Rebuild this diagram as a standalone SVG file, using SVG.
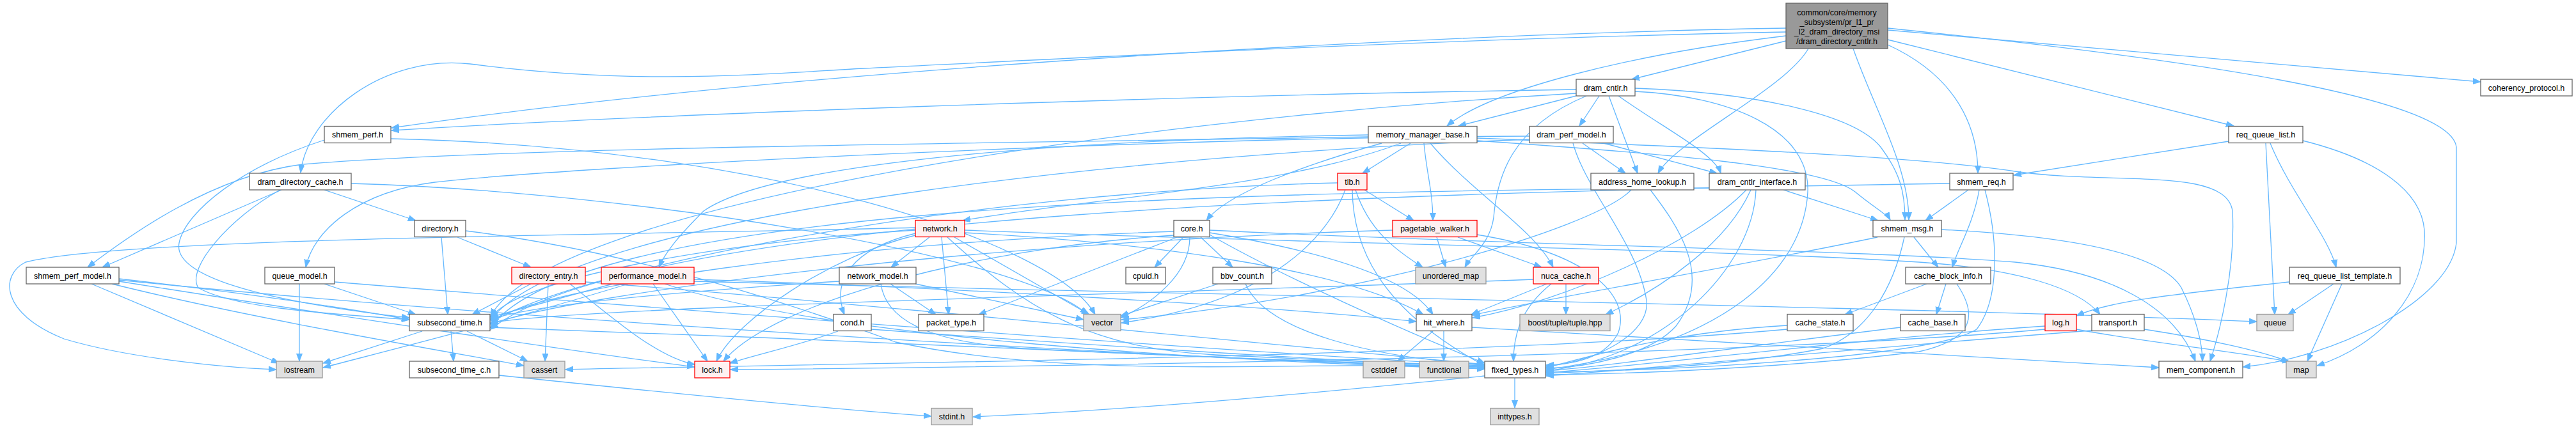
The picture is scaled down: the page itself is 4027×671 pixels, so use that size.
<svg xmlns="http://www.w3.org/2000/svg" width="4027" height="671" viewBox="0 0 4027 671">
<defs>
<marker id="a" markerUnits="userSpaceOnUse" markerWidth="13" markerHeight="10" refX="12" refY="4.5" orient="auto"><path d="M0,0 L12,4.5 L0,9 z" fill="#63b8ff" stroke="#63b8ff" stroke-width="1"/></marker>
</defs>
<style>
rect{fill:#fff;stroke:#666;stroke-width:1.3}
.r rect{fill:#fff0f0;stroke:#f00}
.g rect{fill:#e0e0e0;stroke:#999}
.root rect{fill:#999;stroke:#666}
text{font-family:"Liberation Sans",Arial,Helvetica,sans-serif;font-size:12.5px;text-anchor:middle;fill:#000}
#edges path{fill:none;stroke:#63b8ff;stroke-width:1.3;marker-end:url(#a)}
</style>
<rect x="0" y="0" width="4027" height="671" style="fill:#fff;stroke:none"/>
<g id="edges">
<path d="M2792,44 C2300,52 1300,100 612,200"/>
<path d="M2792,50 C2200,62 1600,95 1350,107 C1200,115 1000,135 735,100 C600,85 480,180 470,270"/>
<path d="M2792,56 C2550,85 2330,140 2262,197"/>
<path d="M2792,64 L2551,124"/>
<path d="M2827,76 C2790,140 2620,220 2592,271"/>
<path d="M2897,76 C2930,170 2984,260 2984,344"/>
<path d="M2951,70 C3060,120 3092,200 3092,271"/>
<path d="M2951,62 L3492,197"/>
<path d="M2951,47 L3878,128"/>
<path d="M2951,44 C3400,90 3830,150 3840,230 L3840,380 C3830,470 3650,560 3506,574"/>
<path d="M2464,140 C1800,150 1000,180 612,204"/>
<path d="M2464,146 C1700,190 850,330 767,495"/>
<path d="M2464,150 L2280,197"/>
<path d="M2500,150 L2469,197"/>
<path d="M2515,150 L2560,271"/>
<path d="M2530,150 C2600,200 2680,240 2690,271"/>
<path d="M2480,150 C2360,200 2340,280 2335,340 C2330,380 2300,400 2290,418"/>
<path d="M2556,138 C2750,145 2900,180 2940,230 C2970,270 2978,300 2978,344"/>
<path d="M2556,143 C2700,150 2830,200 2826,300 C2820,420 2700,540 2417,578"/>
<path d="M507,219 C380,260 290,330 280,380 C270,430 400,470 640,497"/>
<path d="M611,217 C1200,230 1650,380 1712,492"/>
<path d="M2139,214 C1500,225 800,230 473,257 C330,275 200,370 137,418"/>
<path d="M2205,224 L2130,271"/>
<path d="M2226,224 C2230,270 2240,300 2240,345"/>
<path d="M2236,224 C2300,300 2400,360 2428,418"/>
<path d="M2309,216 C2700,232 3000,245 3150,268 C3300,290 3480,260 3490,330 C3495,420 3470,520 3455,565"/>
<path d="M2160,224 C2050,255 1920,300 1886,345"/>
<path d="M2190,224 C2000,295 1700,310 1505,345"/>
<path d="M2139,211 C1600,220 1200,260 1100,330 C1060,370 1040,395 1030,418"/>
<path d="M2309,220 C2600,240 2850,260 2900,300 C2930,325 2950,335 2955,344"/>
<path d="M2391,218 C1800,240 900,330 767,500"/>
<path d="M2474,224 L2541,271"/>
<path d="M2507,224 L2684,271"/>
<path d="M2459,224 C2480,300 2560,380 2574,470 C2580,520 2500,565 2417,573"/>
<path d="M2391,213 C1800,215 900,260 680,285 C560,300 490,360 478,418"/>
<path d="M3484,221 L3148,274"/>
<path d="M3542,224 L3556,492"/>
<path d="M3549,224 C3580,300 3640,370 3652,418"/>
<path d="M3600,220 C3720,250 3785,300 3790,360 C3795,460 3720,540 3622,572"/>
<path d="M507,297 L650,345"/>
<path d="M440,297 L160,418"/>
<path d="M438,297 C360,340 290,420 310,450 C360,480 500,490 640,500"/>
<path d="M549,287 C1000,300 1600,400 1700,492"/>
<path d="M2091,286 C1500,300 900,420 767,505"/>
<path d="M2103,297 C2080,360 2000,470 1753,505"/>
<path d="M2114,297 C2115,380 2150,480 2321,572"/>
<path d="M2119,297 C2140,360 2180,390 2224,418"/>
<path d="M2133,297 L2210,345"/>
<path d="M2550,297 C2490,360 2100,470 1753,500"/>
<path d="M2580,297 C2620,350 2680,430 2620,510 C2580,555 2480,575 2417,576"/>
<path d="M2672,294 C1800,300 900,330 767,512"/>
<path d="M2730,297 C2650,380 2450,470 2302,497"/>
<path d="M2737,297 C2700,380 2600,450 2510,492"/>
<path d="M2745,297 C2740,420 2600,560 2417,580"/>
<path d="M2788,297 L2936,345"/>
<path d="M3077,297 L3010,345"/>
<path d="M3094,297 C3085,350 3060,390 3052,418"/>
<path d="M3103,297 C3125,380 3125,470 3090,515 C3020,560 2600,580 2417,582"/>
<path d="M3048,287 C2200,300 1000,330 767,515"/>
<path d="M715,371 L830,418"/>
<path d="M690,371 L700,492"/>
<path d="M728,361 C1000,395 1250,480 1400,535 C1700,600 2100,560 2321,575"/>
<path d="M1453,371 L1393,418"/>
<path d="M1472,371 L1483,492"/>
<path d="M1492,371 L1703,492"/>
<path d="M1481,371 C1600,480 1700,545 1900,555 C2100,565 2250,570 2321,572"/>
<path d="M1431,365 C1330,390 1300,440 1320,492"/>
<path d="M1431,368 C1300,400 1150,500 1120,565"/>
<path d="M1431,360 C1100,380 800,440 767,498"/>
<path d="M1431,356 C1000,368 200,370 40,410 C0,430 0,490 100,530 C200,560 350,575 432,578"/>
<path d="M1508,360 C2000,380 2700,390 3000,410 C3150,420 3250,450 3283,492"/>
<path d="M1508,364 C1800,380 2100,420 2225,492"/>
<path d="M1840,371 L1530,492"/>
<path d="M1850,371 L1805,418"/>
<path d="M1877,371 L1927,418"/>
<path d="M1860,371 C1860,430 1800,475 1752,497"/>
<path d="M1891,360 C2400,385 2900,390 3150,410 C3300,425 3400,480 3432,565"/>
<path d="M1891,367 C2000,430 2200,520 2321,568"/>
<path d="M1835,368 C1500,390 1200,480 1131,565"/>
<path d="M1835,362 C1300,380 850,450 767,502"/>
<path d="M1891,364 C2050,390 2200,430 2240,492"/>
<path d="M2246,371 L2260,418"/>
<path d="M2279,371 L2410,418"/>
<path d="M2309,367 C2480,395 2550,460 2530,520 C2510,560 2460,570 2417,571"/>
<path d="M2177,360 C1500,380 900,460 767,507"/>
<path d="M2935,371 C2700,420 2400,470 2302,493"/>
<path d="M2977,371 C2960,450 2920,520 2850,545 C2700,575 2500,580 2417,584"/>
<path d="M2992,371 L3030,418"/>
<path d="M3035,359 C3250,370 3380,400 3410,450 C3435,500 3443,540 3443,565"/>
<path d="M143,444 L436,568"/>
<path d="M186,436 C400,460 560,485 640,500"/>
<path d="M175,444 C400,500 700,550 819,572"/>
<path d="M186,440 C500,490 900,550 1086,574"/>
<path d="M186,438 C800,500 1800,560 2321,575"/>
<path d="M468,444 L468,565"/>
<path d="M507,444 L650,492"/>
<path d="M523,441 C1000,480 1900,550 2321,571"/>
<path d="M830,444 L738,492"/>
<path d="M857,444 L852,565"/>
<path d="M891,444 C960,500 1030,560 1086,570"/>
<path d="M915,441 C1300,470 2000,540 2321,570"/>
<path d="M958,444 L767,496"/>
<path d="M1021,444 L1106,565"/>
<path d="M982,444 C800,500 600,550 505,575"/>
<path d="M1039,444 C1300,530 1900,565 2321,577"/>
<path d="M1085,437 C1500,450 2000,480 2214,503"/>
<path d="M1085,440 C1800,460 3000,480 3528,503"/>
<path d="M1392,444 L1463,492"/>
<path d="M1377,444 C1385,500 1450,535 1600,545 C1900,560 2200,570 2321,573"/>
<path d="M1312,440 C1000,460 820,480 767,500"/>
<path d="M1431,444 C1550,470 1650,490 1694,500"/>
<path d="M1904,444 L1752,494"/>
<path d="M1947,444 C1980,520 2150,560 2321,570"/>
<path d="M2418,444 L2300,492"/>
<path d="M2448,444 L2448,492"/>
<path d="M2425,444 C2380,480 2366,520 2366,565"/>
<path d="M2397,437 C1800,460 900,480 767,505"/>
<path d="M3012,444 L2884,492"/>
<path d="M3042,444 L3027,492"/>
<path d="M3059,444 C3090,490 3090,530 3000,550 C2800,575 2550,585 2417,586"/>
<path d="M3648,444 L3577,492"/>
<path d="M3661,444 L3607,565"/>
<path d="M3579,441 C3400,460 3300,470 3246,494"/>
<path d="M660,518 L505,568"/>
<path d="M705,518 L709,565"/>
<path d="M730,518 L825,565"/>
<path d="M766,512 C1300,530 1900,560 2321,577"/>
<path d="M1310,518 C1250,540 1180,555 1141,568"/>
<path d="M1362,515 C1700,540 2100,565 2321,574"/>
<path d="M2240,518 L2185,565"/>
<path d="M2257,518 L2257,565"/>
<path d="M2301,512 C2700,535 3100,560 3375,575"/>
<path d="M2794,509 C2600,520 2480,560 2417,575"/>
<path d="M2794,515 C2300,560 1200,570 884,578"/>
<path d="M2971,512 C2700,545 2500,575 2417,580"/>
<path d="M3197,510 C2900,530 2600,570 2417,583"/>
<path d="M3197,515 C2700,560 1500,575 1142,578"/>
<path d="M3246,515 C3350,535 3500,550 3580,566"/>
<path d="M3270,517 C2900,545 2600,575 2417,588"/>
<path d="M3352,515 C3450,530 3540,550 3578,566"/>
<path d="M780,587 C1000,610 1300,640 1456,651"/>
<path d="M2321,588 C2100,610 1800,640 1521,652"/>
<path d="M2368,591 L2368,638"/>
</g>
<g id="n_root" class="root"><rect x="2792" y="5" width="159" height="71"/><text x="2871.5" y="23.5">common/core/memory</text><text x="2871.5" y="38.5">_subsystem/pr_l1_pr</text><text x="2871.5" y="53.5">_l2_dram_directory_msi</text><text x="2871.5" y="68.5">/dram_directory_cntlr.h</text></g>
<g id="n_dram_cntlr"><rect x="2464" y="124" width="92" height="26"/><text x="2510" y="141.5">dram_cntlr.h</text></g>
<g id="n_coherency_protocol"><rect x="3878" y="124" width="143" height="26"/><text x="3949.5" y="141.5">coherency_protocol.h</text></g>
<g id="n_shmem_perf"><rect x="507" y="197.5" width="104" height="26"/><text x="559" y="215">shmem_perf.h</text></g>
<g id="n_memory_manager_base"><rect x="2139" y="197.5" width="170" height="26"/><text x="2224" y="215">memory_manager_base.h</text></g>
<g id="n_dram_perf_model"><rect x="2391" y="197.5" width="131" height="26"/><text x="2456.5" y="215">dram_perf_model.h</text></g>
<g id="n_req_queue_list"><rect x="3484" y="197.5" width="116" height="26"/><text x="3542" y="215">req_queue_list.h</text></g>
<g id="n_dram_directory_cache"><rect x="390" y="271" width="159" height="26"/><text x="469.5" y="288.5">dram_directory_cache.h</text></g>
<g id="n_tlb" class="r"><rect x="2091" y="271" width="46" height="26"/><text x="2114" y="288.5">tlb.h</text></g>
<g id="n_address_home_lookup"><rect x="2487" y="271" width="161" height="26"/><text x="2567.5" y="288.5">address_home_lookup.h</text></g>
<g id="n_dram_cntlr_interface"><rect x="2672" y="271" width="150" height="26"/><text x="2747" y="288.5">dram_cntlr_interface.h</text></g>
<g id="n_shmem_req"><rect x="3048" y="271" width="99" height="26"/><text x="3097.5" y="288.5">shmem_req.h</text></g>
<g id="n_directory"><rect x="648" y="344.5" width="80" height="26"/><text x="688" y="362">directory.h</text></g>
<g id="n_network" class="r"><rect x="1431" y="344.5" width="77" height="26"/><text x="1469.5" y="362">network.h</text></g>
<g id="n_core"><rect x="1835" y="344.5" width="56" height="26"/><text x="1863" y="362">core.h</text></g>
<g id="n_pagetable_walker" class="r"><rect x="2177" y="344.5" width="132" height="26"/><text x="2243" y="362">pagetable_walker.h</text></g>
<g id="n_shmem_msg"><rect x="2928" y="344.5" width="107" height="26"/><text x="2981.5" y="362">shmem_msg.h</text></g>
<g id="n_shmem_perf_model"><rect x="41" y="418" width="145" height="26"/><text x="113.5" y="435.5">shmem_perf_model.h</text></g>
<g id="n_queue_model"><rect x="414" y="418" width="109" height="26"/><text x="468.5" y="435.5">queue_model.h</text></g>
<g id="n_directory_entry" class="r"><rect x="800" y="418" width="115" height="26"/><text x="857.5" y="435.5">directory_entry.h</text></g>
<g id="n_performance_model" class="r"><rect x="940" y="418" width="145" height="26"/><text x="1012.5" y="435.5">performance_model.h</text></g>
<g id="n_network_model"><rect x="1312" y="418" width="120" height="26"/><text x="1372" y="435.5">network_model.h</text></g>
<g id="n_cpuid"><rect x="1760" y="418" width="62" height="26"/><text x="1791" y="435.5">cpuid.h</text></g>
<g id="n_bbv_count"><rect x="1896" y="418" width="92" height="26"/><text x="1942" y="435.5">bbv_count.h</text></g>
<g id="n_unordered_map" class="g"><rect x="2213" y="418" width="110" height="26"/><text x="2268" y="435.5">unordered_map</text></g>
<g id="n_nuca_cache" class="r"><rect x="2397" y="418" width="102" height="26"/><text x="2448" y="435.5">nuca_cache.h</text></g>
<g id="n_cache_block_info"><rect x="2979" y="418" width="133" height="26"/><text x="3045.5" y="435.5">cache_block_info.h</text></g>
<g id="n_req_queue_list_template"><rect x="3579" y="418" width="173" height="26"/><text x="3665.5" y="435.5">req_queue_list_template.h</text></g>
<g id="n_subsecond_time"><rect x="640" y="491.5" width="126" height="26"/><text x="703" y="509">subsecond_time.h</text></g>
<g id="n_cond"><rect x="1303" y="491.5" width="59" height="26"/><text x="1332.5" y="509">cond.h</text></g>
<g id="n_packet_type"><rect x="1436" y="491.5" width="102" height="26"/><text x="1487" y="509">packet_type.h</text></g>
<g id="n_vector" class="g"><rect x="1694" y="491.5" width="58" height="26"/><text x="1723" y="509">vector</text></g>
<g id="n_hit_where"><rect x="2214" y="491.5" width="87" height="26"/><text x="2257.5" y="509">hit_where.h</text></g>
<g id="n_boost_tuple" class="g"><rect x="2376" y="491.5" width="141" height="26"/><text x="2446.5" y="509">boost/tuple/tuple.hpp</text></g>
<g id="n_cache_state"><rect x="2794" y="491.5" width="103" height="26"/><text x="2845.5" y="509">cache_state.h</text></g>
<g id="n_cache_base"><rect x="2971" y="491.5" width="101" height="26"/><text x="3021.5" y="509">cache_base.h</text></g>
<g id="n_log" class="r"><rect x="3197" y="491.5" width="49" height="26"/><text x="3221.5" y="509">log.h</text></g>
<g id="n_transport"><rect x="3270" y="491.5" width="82" height="26"/><text x="3311" y="509">transport.h</text></g>
<g id="n_queue" class="g"><rect x="3528" y="491.5" width="57" height="26"/><text x="3556.5" y="509">queue</text></g>
<g id="n_iostream" class="g"><rect x="432" y="565" width="72" height="26"/><text x="468" y="582.5">iostream</text></g>
<g id="n_subsecond_time_c"><rect x="640" y="565" width="140" height="26"/><text x="710" y="582.5">subsecond_time_c.h</text></g>
<g id="n_cassert" class="g"><rect x="819" y="565" width="64" height="26"/><text x="851" y="582.5">cassert</text></g>
<g id="n_lock" class="r"><rect x="1086" y="565" width="55" height="26"/><text x="1113.5" y="582.5">lock.h</text></g>
<g id="n_cstddef" class="g"><rect x="2131" y="565" width="65" height="26"/><text x="2163.5" y="582.5">cstddef</text></g>
<g id="n_functional" class="g"><rect x="2219" y="565" width="77" height="26"/><text x="2257.5" y="582.5">functional</text></g>
<g id="n_fixed_types"><rect x="2321" y="565" width="95" height="26"/><text x="2368.5" y="582.5">fixed_types.h</text></g>
<g id="n_mem_component"><rect x="3375" y="565" width="131" height="26"/><text x="3440.5" y="582.5">mem_component.h</text></g>
<g id="n_map" class="g"><rect x="3574" y="565" width="47" height="26"/><text x="3597.5" y="582.5">map</text></g>
<g id="n_stdint" class="g"><rect x="1456" y="638.5" width="64" height="26"/><text x="1488" y="656">stdint.h</text></g>
<g id="n_inttypes" class="g"><rect x="2330" y="638.5" width="76" height="26"/><text x="2368" y="656">inttypes.h</text></g>
</svg>
